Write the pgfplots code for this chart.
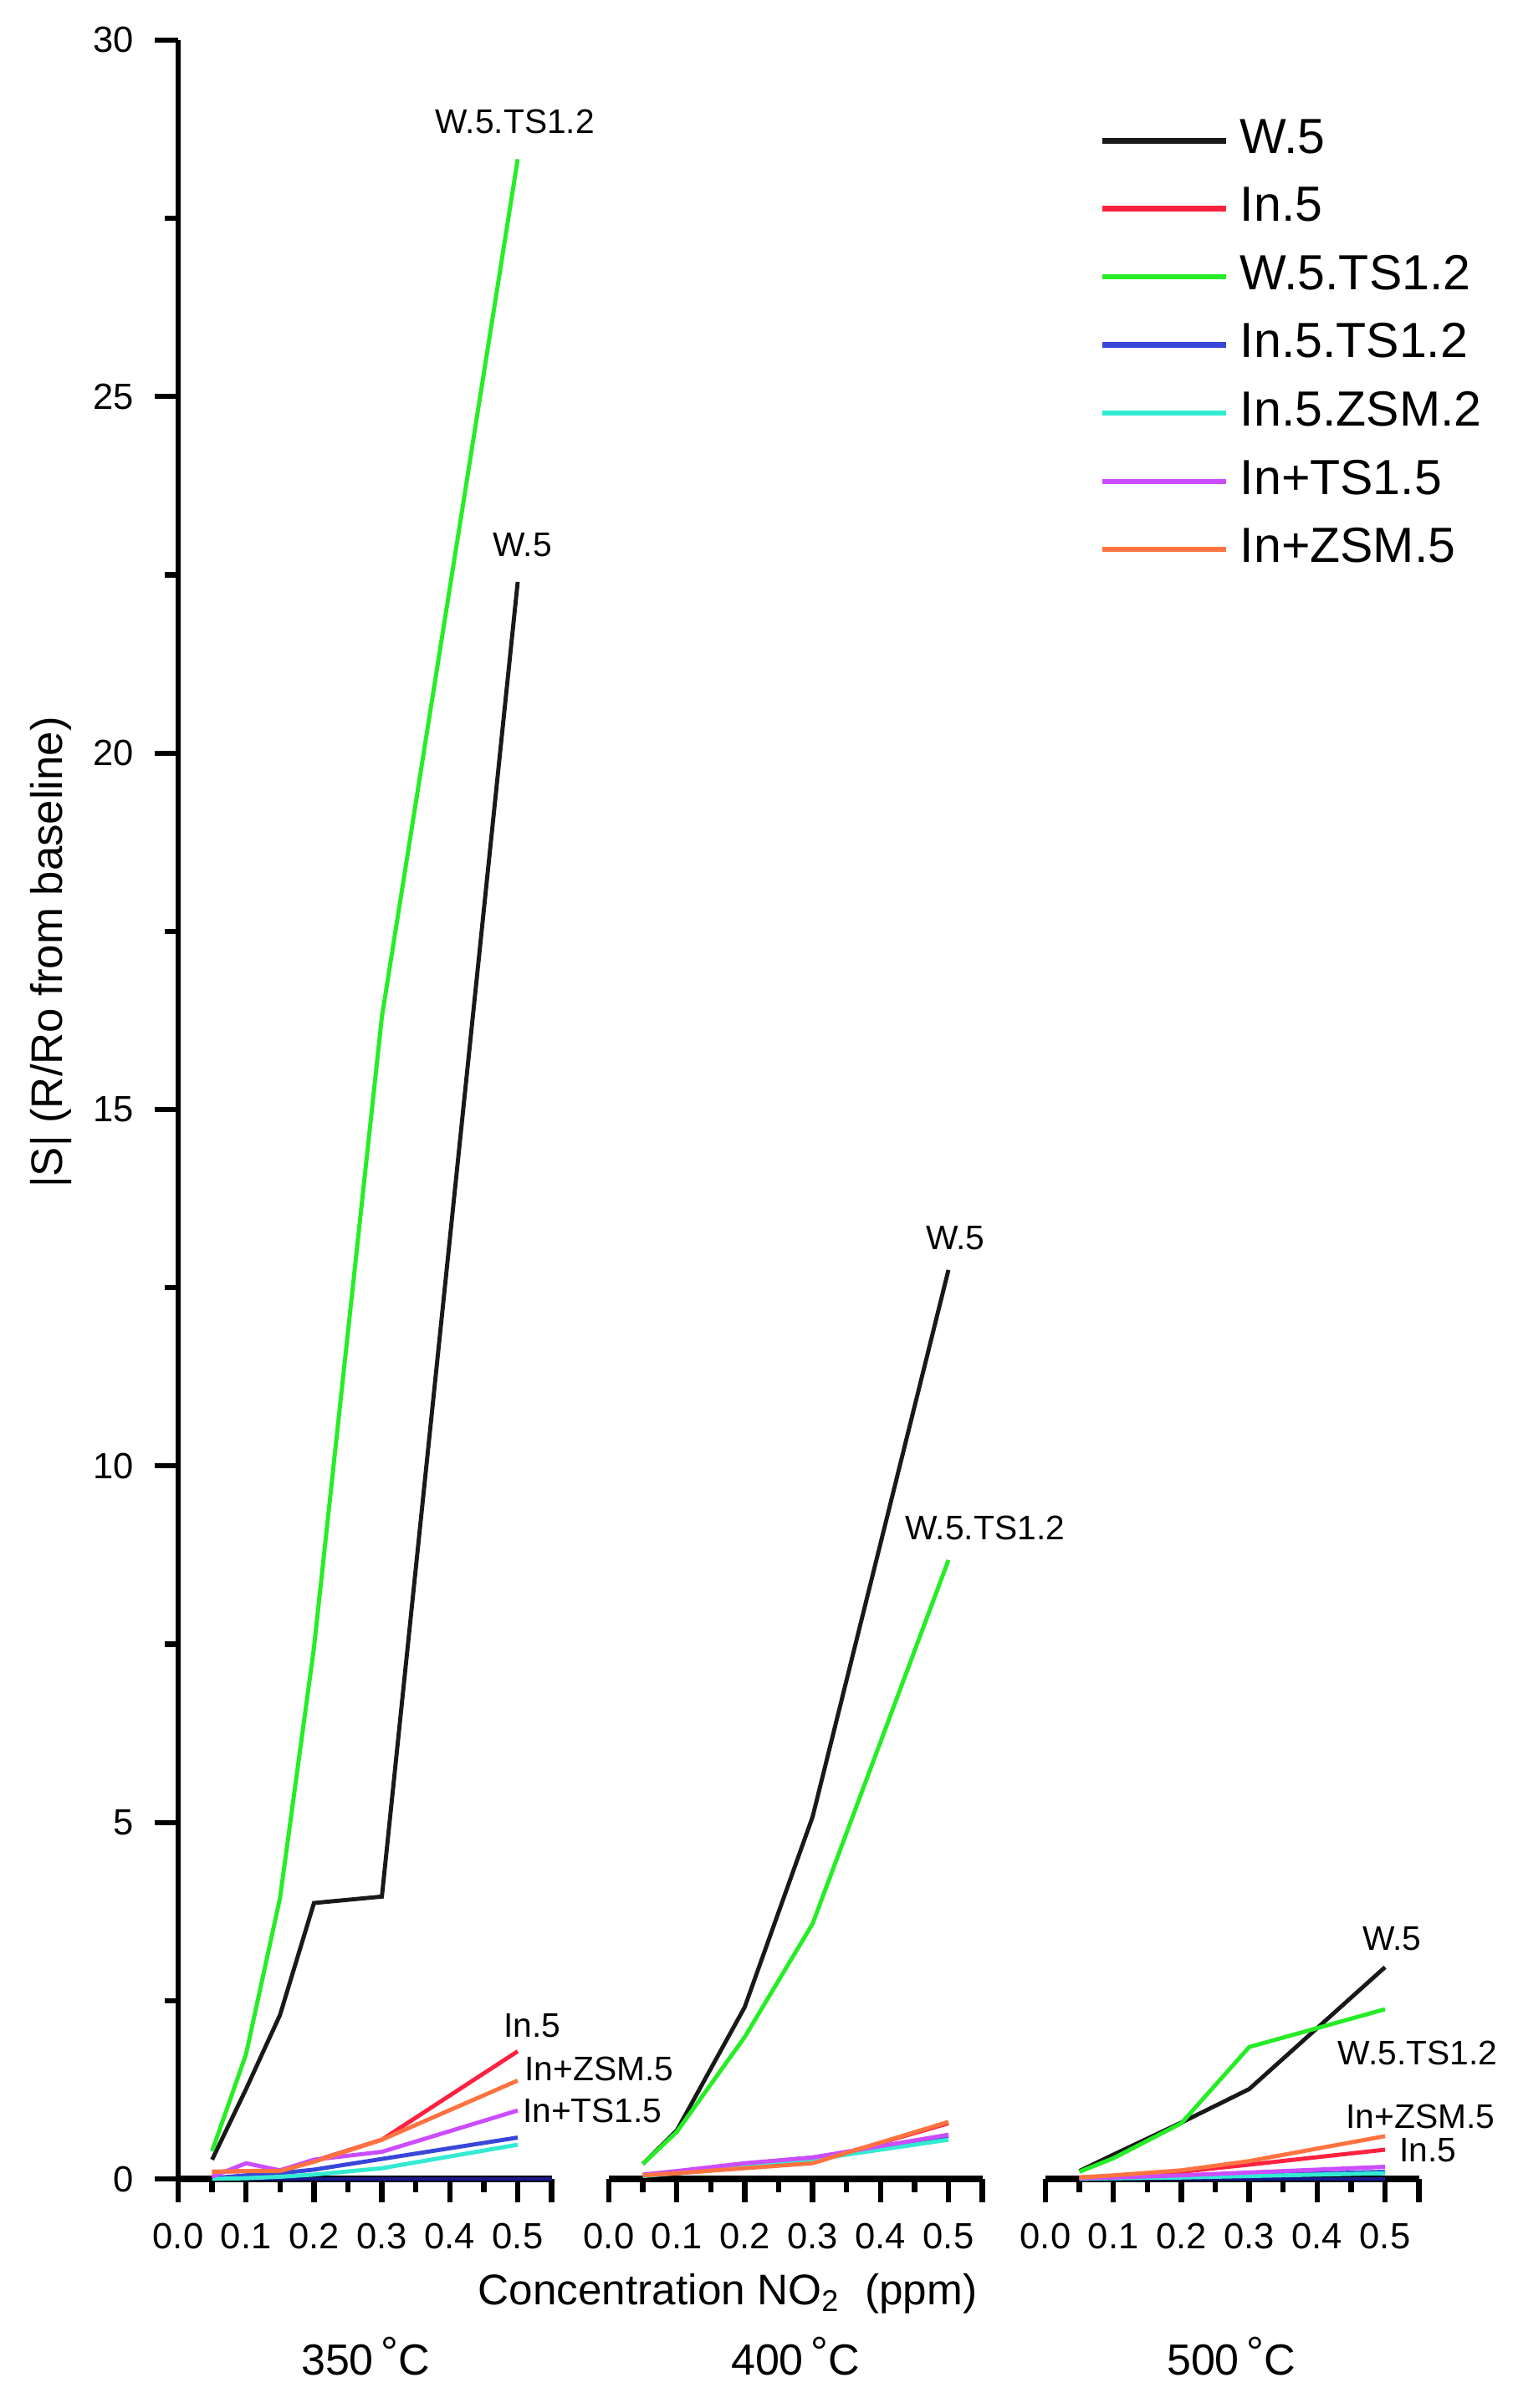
\documentclass[border=0pt]{standalone}
\usepackage{pgfplots}
\usepackage{pgfplotstable}
\pgfplotsset{compat=1.18}
\usepackage{fontspec}
\setmainfont{Liberation Sans}

\definecolor{cW}{rgb}{0.1,0.1,0.1}
\definecolor{cIn}{rgb}{1,0.13,0.25}
\definecolor{cWTS}{rgb}{0.15,0.93,0.15}
\definecolor{cInTS}{rgb}{0.22,0.28,0.85}
\definecolor{cInZ}{rgb}{0.2,0.92,0.82}
\definecolor{cInpTS}{rgb}{0.8,0.3,1}
\definecolor{cInpZ}{rgb}{1,0.45,0.25}
\definecolor{cNavy}{rgb}{0.1,0.1,0.55}

% 350 C
\pgfplotstableread{
x W In WTS InTS InZ InpTS InpZ
0.05 0.27 0.10 0.39 0.01 0.00 0.03 0.10
0.10 1.26 0.11 1.75 0.05 0.01 0.22 0.11
0.15 2.30 0.12 3.94 0.08 0.03 0.12 0.11
0.20 3.87 0.25 7.45 0.13 0.06 0.27 0.24
0.30 3.96 0.55 16.30 0.28 0.15 0.38 0.55
0.50 22.40 1.79 28.33 0.58 0.48 0.96 1.38
}\tA
% 400 C
\pgfplotstableread{
x W In WTS InTS InZ InpTS InpZ
0.05 0.21 0.05 0.21 0.05 0.04 0.06 0.05
0.10 0.68 0.08 0.66 0.10 0.08 0.11 0.08
0.20 2.41 0.16 1.99 0.21 0.18 0.22 0.15
0.30 5.08 0.23 3.58 0.30 0.27 0.30 0.22
0.50 12.75 0.78 8.68 0.60 0.55 0.62 0.80
}\tB
% 500 C
\pgfplotstableread{
x W In WTS InTS InZ InpTS InpZ
0.05 0.11 0.02 0.10 0.00 0.00 0.01 0.02
0.10 0.34 0.04 0.29 0.01 0.01 0.02 0.05
0.20 0.79 0.10 0.78 0.03 0.02 0.05 0.12
0.30 1.26 0.20 1.85 0.05 0.04 0.09 0.25
0.50 2.97 0.41 2.38 0.10 0.08 0.17 0.60
}\tC

\tikzset{lab/.style={font=\fontsize{5.8}{7}\selectfont, inner sep=0pt}}
\pgfplotsset{
  panel/.style={
    scale only axis, width=22.33mm, height=127.9mm,
    xmin=0, xmax=0.55, ymin=0, ymax=30,
    clip=false,
    axis x line*=bottom,
    x axis line style={line width=1.1pt},
    xtick={0,0.1,0.2,0.3,0.4,0.5},
    xticklabels={0.0,0.1,0.2,0.3,0.4,0.5},
    minor xtick={0.05,0.15,0.25,0.35,0.45},
    extra x ticks={0.55}, extra x tick labels={},
    tick align=outside,
    major tick length=1.4mm, minor tick length=0.8mm,
    tick style={black, line width=0.9pt},
    ticklabel style={font=\fontsize{6.2}{7}\selectfont},
    /pgf/number format/assume math mode=true,
    every axis plot/.append style={line width=0.7pt, no markers},
    legend image code/.code={\draw[##1, line width=0.9pt] (0mm,0mm) -- (7.4mm,0mm);},
  },
}

\newcommand{\allplots}[1]{%
  \addplot[cW]     table[x=x,y=W]     {#1};
  \addplot[cIn]    table[x=x,y=In]    {#1};
  \addplot[cWTS]   table[x=x,y=WTS]   {#1};
  \addplot[cInTS]  table[x=x,y=InTS]  {#1};
  \addplot[cInZ]   table[x=x,y=InZ]   {#1};
  \addplot[cInpTS] table[x=x,y=InpTS] {#1};
  \addplot[cInpZ]  table[x=x,y=InpZ]  {#1};
}

\begin{document}
\begin{tikzpicture}
\useasboundingbox (-10.65mm,-13.7mm) rectangle (80.1mm,130.3mm);

% ---------- 350 C ----------
\begin{axis}[panel, at={(0mm,0mm)}, anchor=south west,
  axis y line*=left,
  y axis line style={line width=0.85pt},
  ytick={0,5,10,15,20,25,30},
  minor ytick={2.5,7.5,12.5,17.5,22.5,27.5},
]
\addplot[cNavy, line width=0.6pt, forget plot] coordinates {(0.05,0) (0.55,0)};
\allplots{\tA}
\node[lab] at (axis cs:0.496,28.86) {W.5.TS1.2};
\node[lab] at (axis cs:0.507,22.92) {W.5};
\node[lab] at (axis cs:0.521,2.15) {In.5};
\node[lab] at (axis cs:0.620,1.54) {In+ZSM.5};
\node[lab] at (axis cs:0.610,0.96) {In+TS1.5};
\end{axis}

% ---------- 400 C ----------
\begin{axis}[panel, at={(25.75mm,0mm)}, anchor=south west,
  axis y line=none,
]
\allplots{\tB}
\node[lab] at (axis cs:0.510,13.2) {W.5};
\node[lab] at (axis cs:0.554,9.13) {W.5.TS1.2};
\end{axis}

% ---------- 500 C ----------
\begin{axis}[panel, at={(51.85mm,0mm)}, anchor=south west,
  axis y line=none,
  legend cell align=left,
  legend style={draw=none, fill=none, at={(axis description cs:0.141,0.969)},
    anchor=north west, inner sep=0pt, row sep=0.25pt, column sep=0pt,
    font=\fontsize{8.4}{10}\selectfont,
    nodes={inner sep=2pt, text depth=0.15em}},
]
\addplot[cNavy, line width=0.6pt, forget plot] coordinates {(0.05,0) (0.5,0)};
\allplots{\tC}
\legend{W.5,In.5,W.5.TS1.2,In.5.TS1.2,In.5.ZSM.2,In+TS1.5,In+ZSM.5}
\node[lab] at (axis cs:0.510,3.37) {W.5};
\node[lab] at (axis cs:0.548,1.77) {W.5.TS1.2};
\node[lab] at (axis cs:0.552,0.87) {In+ZSM.5};
\node[lab] at (axis cs:0.563,0.40) {In.5};
\end{axis}

% labels
\node[rotate=90, font=\fontsize{7.5}{9}\selectfont] at (-7.6mm,73.35mm) {|S| (R/Ro from baseline)};
\node[font=\fontsize{7.3}{9}\selectfont] at (32.85mm,-6.85mm) {Concentration NO\textsubscript{2}\ \ (ppm)};
\node[font=\fontsize{7.4}{9}\selectfont] at (11.2mm,-10.6mm) {350\,\raisebox{0.3ex}{°}C};
\node[font=\fontsize{7.4}{9}\selectfont] at (36.9mm,-10.6mm) {400\,\raisebox{0.3ex}{°}C};
\node[font=\fontsize{7.4}{9}\selectfont] at (62.95mm,-10.6mm) {500\,\raisebox{0.3ex}{°}C};
\end{tikzpicture}
\end{document}
